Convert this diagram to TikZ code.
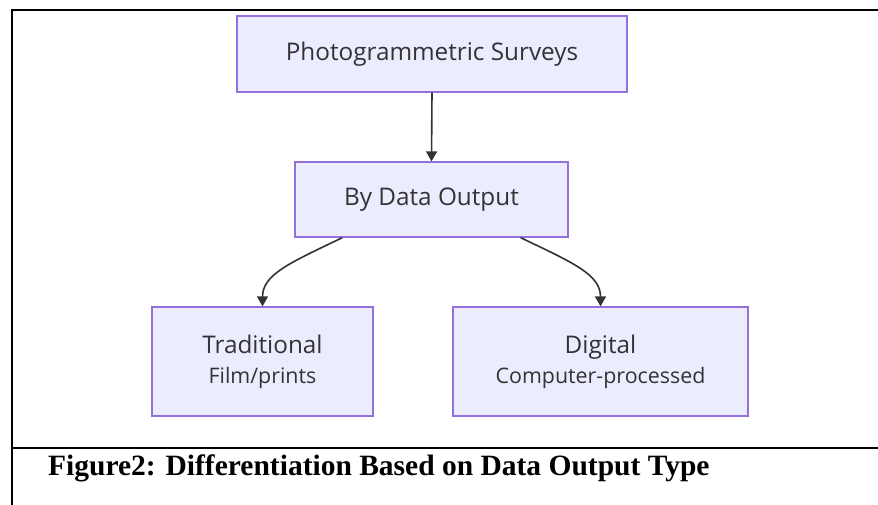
\documentclass[tikz,border=0pt]{standalone}
\usepackage{fontspec}
\setmainfont{Liberation Serif}
\newfontfamily\boxfont{Open Sans}
\usetikzlibrary{arrows.meta}
\definecolor{boxfill}{HTML}{ECECFF}
\definecolor{boxline}{HTML}{9370DB}
\definecolor{inktext}{HTML}{333333}
\tikzset{
  flowbox/.style={draw=boxline, fill=boxfill, line width=1.3pt, inner sep=0pt,
    text=inktext, font=\boxfont\fontsize{24.3}{29}\selectfont, align=center},
  subtext/.style={},
  link/.style={draw=inktext, line width=1.6pt, -{Triangle[length=10pt,width=11pt]}},
  frameline/.style={line width=2.8pt, black}
}
\begin{document}
\begin{tikzpicture}[x=1pt,y=-1pt]
\useasboundingbox (0,0) rectangle (878,505);
\fill[white] (0,0) rectangle (878,505);
% frame
\coordinate (tl) at (12,10);
\coordinate (tr) at (878,10);
\coordinate (bl) at (12,505);
\coordinate (ml) at (12,448);
\coordinate (mr) at (878,448);
\draw[frameline] (bl) -- (tl) -- (tr);
\draw[frameline] (ml) -- (mr);
% nodes
\node[flowbox, minimum width=390pt, minimum height=76pt] (ps) at (432,54) {Photogrammetric Surveys};
\node[flowbox, minimum width=273pt, minimum height=75pt] (bdo) at (431.5,199.5) {By Data Output};
\node[flowbox, minimum width=221pt, minimum height=109pt] (trad) at (262.5,361.5)
  {Traditional\\[1pt]{\fontsize{21.4}{25}\selectfont Film/prints}};
\node[flowbox, minimum width=295pt, minimum height=109pt] (dig) at (600.5,361.5)
  {Digital\\[1pt]{\fontsize{21.4}{25}\selectfont Computer-processed}};
% connectors
\draw[link] (ps.south) -- (bdo.north);
\draw[link] ([xshift=48pt]bdo.south west) .. controls +(-52,25) and +(0,-32) .. (trad.north);
\draw[link] ([xshift=-48pt]bdo.south east) .. controls +(52,25) and +(0,-32) .. (dig.north);
% caption
\node[anchor=base west, inner sep=0pt, font=\bfseries\fontsize{29.5}{34}\selectfont] (cap) at (48,475)
  {Figure2: Differentiation Based on Data Output Type};
\end{tikzpicture}
\end{document}
